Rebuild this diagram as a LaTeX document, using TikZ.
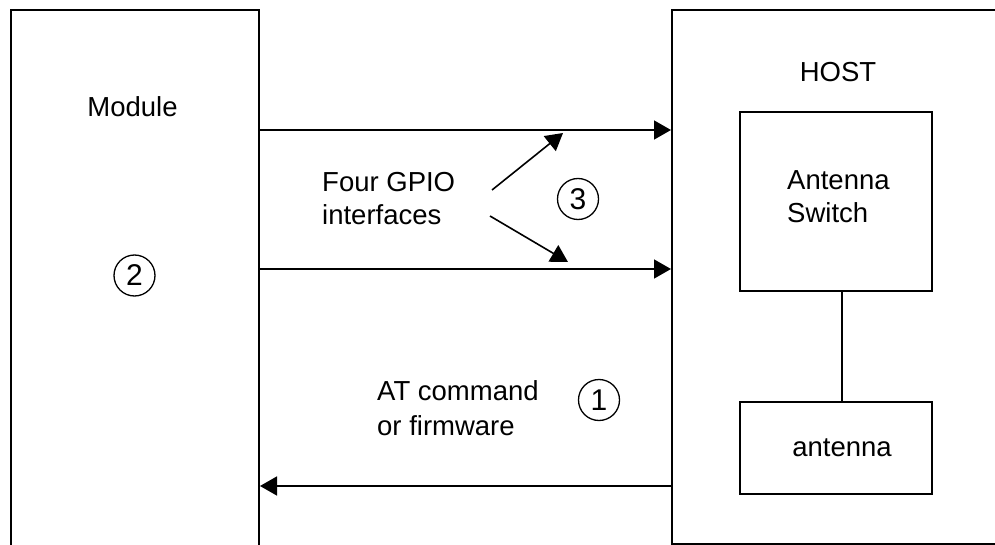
\documentclass[tikz,border=0pt]{standalone}
\usepackage{fontspec}
\setmainfont{Liberation Sans}
\usetikzlibrary{arrows.meta}
\begin{document}
\begin{tikzpicture}[x=1pt,y=-1pt,
  lbl/.style={font=\fontsize{27.5}{33}\selectfont, inner sep=0pt, align=left},
  num/.style={circle, draw, line width=1.3pt, minimum size=41pt, inner sep=0pt, font=\fontsize{30}{30}\selectfont},
  bigbox/.style={draw, line width=2pt, inner sep=0pt},
  smallbox/.style={draw, line width=2pt, inner sep=0pt},
  arr/.style={line width=1.6pt, -{Triangle[length=17pt,width=19pt]}},
  link/.style={line width=1.6pt}]
\useasboundingbox (0,0) rectangle (995,545);
\clip (0,0) rectangle (995,545);
% outer boxes
\node[bigbox, minimum width=248pt, minimum height=570pt] (mod) at (135,295) {};
\node[bigbox, minimum width=348pt, minimum height=534pt] (host) at (846,277) {};
% inner boxes
\node[smallbox, minimum width=192pt, minimum height=179pt] (sw) at (836,201.5) {};
\node[smallbox, minimum width=192pt, minimum height=92pt] (ant) at (836,448) {};
% labels
\node[lbl, anchor=base] (modlbl) at (132.5,117) {Module};
\node[lbl, anchor=base] (hostlbl) at (838,82) {HOST};
\node[lbl, anchor=base west] (swlbl) at (787,223) {Antenna\\Switch};
\node[lbl, anchor=base] (antlbl) at (842,456) {antenna};
\node[lbl, anchor=base west] (gpiolbl) at (322,225) {Four GPIO\\interfaces};
\node[lbl, anchor=base west, font=\fontsize{27.5}{35}\selectfont] (atlbl) at (377,435) {AT command\\or firmware};
% circled numbers
\node[num] (n1) at (599,400) {1};
\node[num] (n2) at (134.5,275.5) {2};
\node[num] (n3) at (578,199) {3};
% arrows
\coordinate (y1) at (0,130);
\coordinate (y2) at (0,269);
\coordinate (y3) at (0,486);
\draw[arr] (mod.east |- y1) -- (host.west |- y1);
\draw[arr] (mod.east |- y2) -- (host.west |- y2);
\draw[arr] (host.west |- y3) -- (mod.east |- y3);
\coordinate (d1s) at (492,190);
\coordinate (d1e) at (563,133);
\coordinate (d2s) at (490,216);
\coordinate (d2e) at (568,262);
\draw[arr] (d1s) -- (d1e);
\draw[arr] (d2s) -- (d2e);
\draw[link] ([xshift=6pt]sw.south) -- ([xshift=6pt]ant.north);
\end{tikzpicture}
\end{document}
